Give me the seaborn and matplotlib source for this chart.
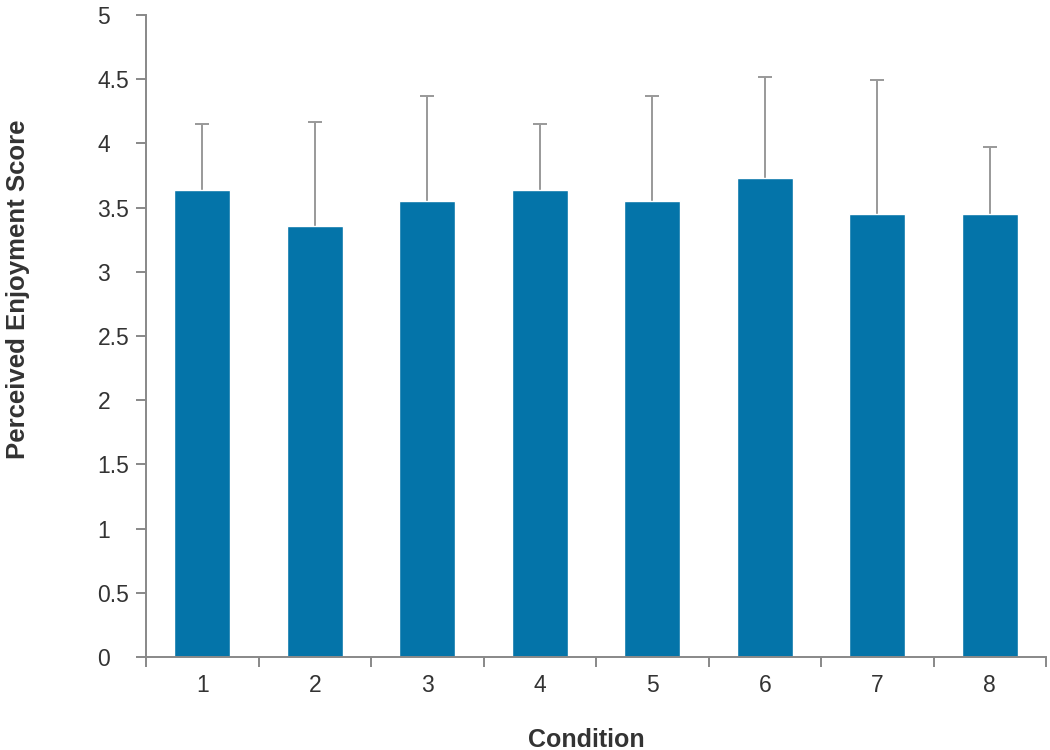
import matplotlib
matplotlib.use("Agg")
import matplotlib.pyplot as plt
import seaborn as sns
import numpy as np
import pandas as pd

conditions = ["1", "2", "3", "4", "5", "6", "7", "8"]
mean_scores = [3.64, 3.36, 3.55, 3.64, 3.55, 3.73, 3.45, 3.45]
upper_errors = [0.51, 0.81, 0.82, 0.51, 0.82, 0.79, 1.04, 0.52]
y_ticks = [0, 0.5, 1, 1.5, 2, 2.5, 3, 3.5, 4, 4.5, 5]
y_tick_labels = ["0", "0.5", "1", "1.5", "2", "2.5", "3", "3.5", "4", "4.5", "5"]

sns.set_style("white")
plt.rcParams["font.family"] = ["Liberation Sans", "DejaVu Sans"]

df = pd.DataFrame({"Condition": conditions, "Score": mean_scores})

fig = plt.figure(figsize=(10.5, 7.5), dpi=100)
ax = fig.add_axes([146 / 1050, 93 / 750, 900 / 1050, 642 / 750])

bar_color = "#0474a9"
sns.barplot(data=df, x="Condition", y="Score", color=bar_color, width=0.5,
            saturation=1, errorbar=None, ax=ax, zorder=2)

# upper-only error bars
xpos = np.arange(len(conditions))
_, caps, _ = ax.errorbar(xpos, mean_scores,
                         yerr=[np.zeros(len(conditions)), upper_errors],
                         fmt="none", ecolor="#999999", elinewidth=1.4,
                         capsize=4.7, capthick=1.4, zorder=1)
caps[0].set_visible(False)

ax.set_xlim(-0.5, len(conditions) - 0.5)
ax.set_ylim(0, 5)

spine_color = "#888888"
for side in ["top", "right"]:
    ax.spines[side].set_visible(False)
for side in ["left", "bottom"]:
    ax.spines[side].set_color(spine_color)
    ax.spines[side].set_linewidth(1.4)

text_color = "#333333"
tick_size = 16.5

# category labels at bar centres, tick marks at category boundaries
ax.set_xticks(xpos)
ax.set_xticklabels(conditions)
ax.set_xticks(np.arange(-0.5, len(conditions)), minor=True)
ax.tick_params(axis="x", which="major", length=0, pad=12, labelsize=tick_size,
               labelcolor=text_color)
ax.tick_params(axis="x", which="minor", length=7, width=1.4, color=spine_color,
               direction="out", bottom=True)

ax.set_yticks(y_ticks)
ax.set_yticklabels(y_tick_labels)
ax.tick_params(axis="y", which="major", length=7, width=1.4, color=spine_color,
               direction="out", left=True, pad=28, labelsize=tick_size,
               labelcolor=text_color)
for lbl in ax.get_yticklabels():
    lbl.set_horizontalalignment("left")

ax.set_xlabel("Condition", fontsize=18, fontweight="bold", color=text_color,
              va="center", ha="center")
ax.set_ylabel("Perceived Enjoyment Score", fontsize=18.5, fontweight="bold",
              color=text_color, va="center", ha="center")
ax.xaxis.set_label_coords((586 - 146) / 900, (657 - 740) / 642)
ax.yaxis.set_label_coords((18 - 146) / 900, (657 - 289) / 642)

fig.savefig("out.png", dpi=100)
